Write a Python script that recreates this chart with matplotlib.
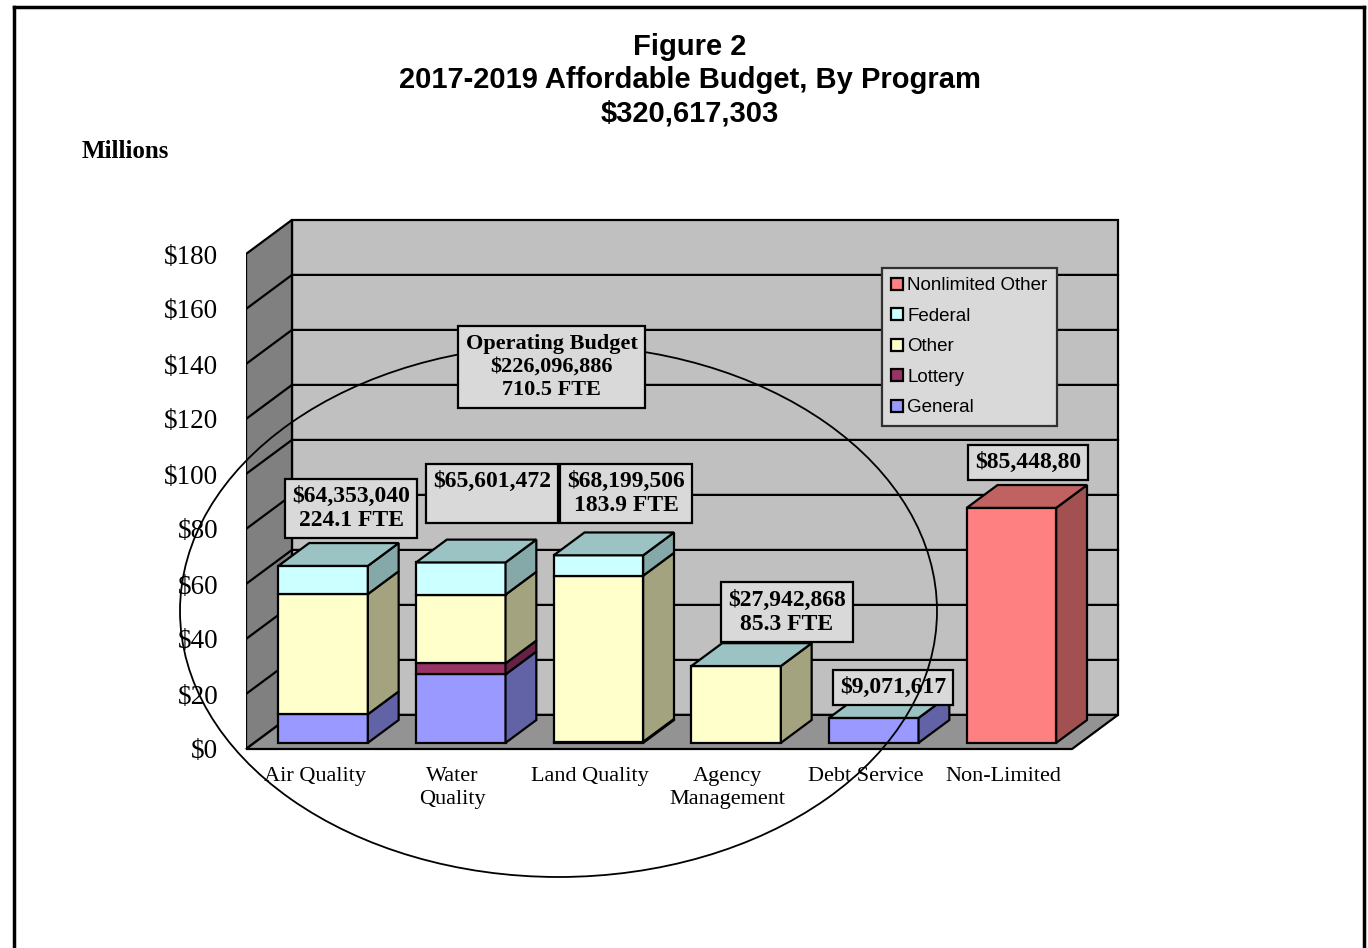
import matplotlib
matplotlib.use("Agg")
import matplotlib.pyplot as plt
from matplotlib.patches import Polygon, Ellipse, Patch
from matplotlib.lines import Line2D

# ---- data (millions of dollars) ----
categories = ["Air Quality", "Water\nQuality", "Land Quality", "Agency\nManagement",
              "Debt Service", "Non-Limited"]
general = [10.4, 24.9, 0.4, 0.0, 9.07, 0.0]
lottery = [0.0, 4.0, 0.0, 0.0, 0.0, 0.0]
other = [43.7, 25.0, 60.4, 27.94, 0.0, 0.0]
federal = [10.25, 11.7, 7.4, 0.0, 0.0, 0.0]
nonlimited_other = [0.0, 0.0, 0.0, 0.0, 0.0, 85.45]

bar_labels = ["$64,353,040\n224.1 FTE", "$65,601,472\n ", "$68,199,506\n183.9 FTE",
              "$27,942,868\n85.3 FTE", "$9,071,617", "$85,448,80"]
operating_label = "Operating Budget\n$226,096,886\n710.5 FTE"
yticks = [0, 20, 40, 60, 80, 100, 120, 140, 160, 180]

series = [
    ("General", general, "#9999FF", "#6262A6"),
    ("Lottery", lottery, "#993366", "#662244"),
    ("Other", other, "#FFFFCC", "#A3A37F"),
    ("Federal", federal, "#CCFFFF", "#85A8A8"),
    ("Nonlimited Other", nonlimited_other, "#FF8080", "#A35050"),
]
top_colors = ["#9CC3C3"] * 5 + ["#C06262"]

# ---- figure / axes geometry ----
W, H = 1368, 948
fig = plt.figure(figsize=(W / 100, H / 100), dpi=100)
px_x, px_y = 137.67, 2.75
x0, x1 = 0.0, 6.5
y0, y1 = -1.0, 195.0
left_px, zero_px = 246, 749
ax = fig.add_axes([left_px / W, (H - zero_px - (0 - y0) * px_y) / H,
                   (x1 - x0) * px_x / W, (y1 - y0) * px_y / H])
ax.set_xlim(x0, x1)
ax.set_ylim(y0, y1)
for s in ax.spines.values():
    s.set_visible(False)

n = len(categories)
DX, DY = 0.334, 12.4          # full depth offset of the walls
TOP = 180
Z0, Z1 = 0.18, 0.85            # front/back depth of the columns
BW = 0.65

edge = dict(edgecolor="black", linewidth=1.6, joinstyle="miter")

# walls and floor
ax.add_patch(Polygon([(DX, DY), (n + DX, DY), (n + DX, TOP + DY), (DX, TOP + DY)],
                     facecolor="#C0C0C0", zorder=0.5, **edge))
ax.add_patch(Polygon([(0, 0), (DX, DY), (DX, TOP + DY), (0, TOP)],
                     facecolor="#808080", zorder=0.6, **edge))
ax.add_patch(Polygon([(0, 0), (n, 0), (n + DX, DY), (DX, DY)],
                     facecolor="#939393", zorder=0.7, clip_on=False, **edge))
for v in yticks[1:-1]:
    ax.plot([0, DX, n + DX], [v, v + DY, v + DY], color="black", lw=1.6, zorder=0.8)

# columns
xs = [i + 0.5 for i in range(n)]
ddx, ddy = (Z1 - Z0) * DX, (Z1 - Z0) * DY
bottoms = [Z0 * DY] * n
for name, vals, fc, sc in series:
    bars = ax.bar([x + Z0 * DX for x in xs], vals, width=BW, bottom=bottoms,
                  color=fc, zorder=2, **edge)
    for i, (b, v) in enumerate(zip(bars, vals)):
        if v <= 0:
            b.set_visible(False)
            continue
        xr = b.get_x() + b.get_width()
        yb, yt = b.get_y(), b.get_y() + v
        ax.add_patch(Polygon([(xr, yb), (xr + ddx, yb + ddy), (xr + ddx, yt + ddy), (xr, yt)],
                             facecolor=sc, zorder=2, **edge))
    bottoms = [bo + v for bo, v in zip(bottoms, vals)]

# top faces
for i, x in enumerate(xs):
    xl = x + Z0 * DX - BW / 2
    xr = xl + BW
    t = bottoms[i]
    ax.add_patch(Polygon([(xl, t), (xr, t), (xr + ddx, t + ddy), (xl + ddx, t + ddy)],
                         facecolor=top_colors[i], zorder=2.1, **edge))

# axes ticks
ax.set_yticks(yticks)
ax.set_yticklabels([f"${v}" for v in yticks], fontsize=19.5, family="Liberation Serif")
ax.set_xticks(xs)
ax.set_xticklabels(categories, fontsize=16, family="Liberation Serif", linespacing=1.3)
ax.tick_params(axis="y", length=0, pad=20)
ax.tick_params(axis="x", length=0, pad=11)

# value boxes
box = dict(boxstyle="square,pad=0.3", facecolor="#D9D9D9", edgecolor="black", linewidth=1.6)
label_pos = [(0.763, 87.5), (1.787, 93.0), (2.76, 93.0), (3.93, 49.8), (4.70, 22.5), (5.68, 104.3)]
for (lx, ly), txt in zip(label_pos, bar_labels):
    ax.text(lx, ly, txt, ha="center", va="center", fontsize=17, fontweight="bold",
            family="Liberation Serif", linespacing=1.2, bbox=box, zorder=5)

# operating budget ellipse
ax.add_patch(Ellipse((558.5 / W, 1 - 611 / H), 757 / W, 532 / H, transform=fig.transFigure,
                     fill=False, edgecolor="black", lw=1.3, zorder=6, clip_on=False))
ax.text(2.22, 139.0, operating_label, ha="center", va="center", fontsize=16,
        fontweight="bold", family="Liberation Serif", linespacing=1.2,
        bbox=dict(box, boxstyle="square,pad=0.35"), zorder=7)

# legend
handles = [Patch(facecolor=fc, edgecolor="black", linewidth=1.6, label=name)
           for name, _, fc, _ in reversed(series)]
leg = ax.legend(handles=handles, loc="upper left",
                bbox_to_anchor=(882 / W, 1 - 268 / H), bbox_transform=fig.transFigure,
                borderaxespad=0, fancybox=False, framealpha=1, facecolor="#D9D9D9",
                edgecolor="#303030", prop={"family": "Liberation Sans", "size": 13.5},
                handlelength=0.6, handleheight=0.6, handletextpad=0.25,
                labelspacing=0.72, borderpad=0.5)
leg.get_frame().set_linewidth(1.6)
leg.set_zorder(8)

# titles
title_font = dict(ha="center", va="center", fontsize=21, fontweight="bold",
                  family="Liberation Sans")
fig.text(690 / W, 1 - 47 / H, "Figure 2", **title_font)
fig.text(690 / W, 1 - 80 / H, "2017-2019 Affordable Budget, By Program", **title_font)
fig.text(690 / W, 1 - 113 / H, "$320,617,303", **title_font)
fig.text(82 / W, 1 - 152 / H, "Millions", ha="left", va="center", fontsize=18,
         fontweight="bold", family="Liberation Serif")

# page frame
for xs_, ys_ in [([14, 14], [7, H + 5]), ([14, 1364], [7, 7]), ([1364, 1364], [7, H + 5])]:
    fig.add_artist(Line2D([v / W for v in xs_], [1 - v / H for v in ys_],
                          color="black", lw=2.5, transform=fig.transFigure))

fig.savefig("out.png", dpi=100, facecolor="white")
